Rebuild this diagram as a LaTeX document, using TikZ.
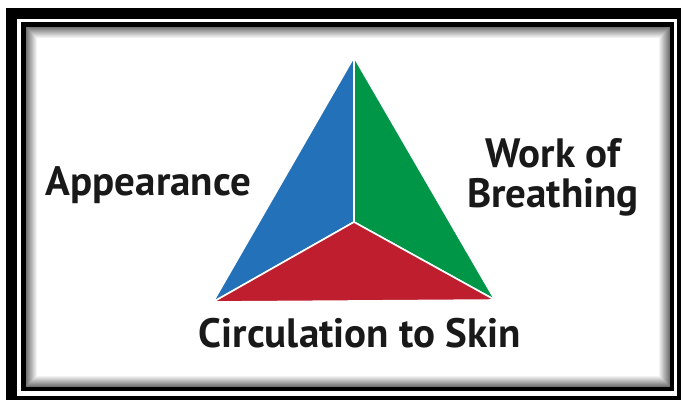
\documentclass[tikz,border=0pt]{standalone}
\usepackage{fontspec}
\setmainfont{PT Sans}
\usetikzlibrary{positioning, calc}

\definecolor{apblue}{RGB}{35,114,185}
\definecolor{wbgreen}{RGB}{0,150,72}
\definecolor{csred}{RGB}{190,30,45}

\tikzset{
    label text/.style={font=\bfseries\fontsize{41}{40}\selectfont, text=black!90, inner sep=0pt},
    sector/.style={draw=white, line width=1.6pt, line join=round}
}

\begin{document}
\begin{tikzpicture}[x=1pt, y=-1pt]
            \useasboundingbox (0,0) rectangle (683,400);
            \fill[white] (0,0) rectangle (683,400);
            % frame
            \fill[black] (6,8) rectangle (681,400);
            \fill[white] (17,19) rectangle (677,396);
            \fill[black] (21,22) rectangle (674,391);
            \fill[white] (26,27) rectangle (670,387);
            \foreach \i in {0,...,10} {
                \pgfmathsetmacro\g{55-5*\i}
                \draw[black!\g, line width=1pt] (26.5+\i,27.5+\i) rectangle (669.5-\i,386.5-\i);
            }
            % triangle
            \coordinate (top) at (354,57);
            \coordinate (left) at (213,302);
            \coordinate (right) at (495,300);
            \coordinate (mid) at (354,222);
            \filldraw[sector, fill=apblue] (top) -- (mid) -- (left) -- cycle;
            \filldraw[sector, fill=wbgreen] (top) -- (right) -- (mid) -- cycle;
            \filldraw[sector, fill=csred] (mid) -- (right) -- (left) -- cycle;
            \node[label text, anchor=base] (appearance) at (148.5,195) {Appearance};
            \node[label text, anchor=base, align=center] (work) at (553,207) {Work of\\Breathing};
            \node[label text, anchor=base] (circulation) at (360,347) {Circulation to Skin};
        \end{tikzpicture}
\end{document}
